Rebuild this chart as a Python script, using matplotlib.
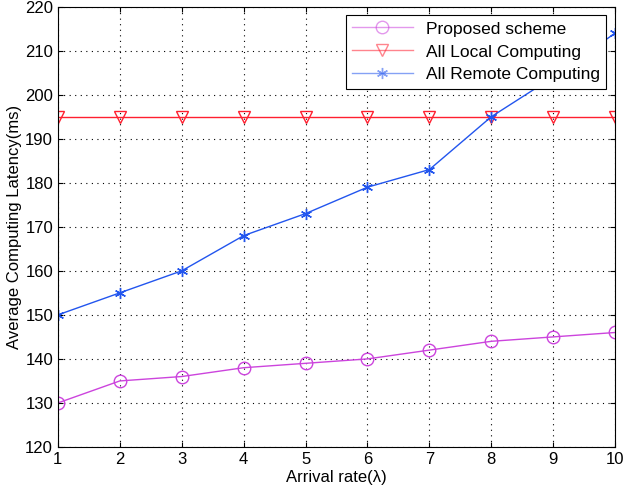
import matplotlib
matplotlib.use("Agg")
import matplotlib.pyplot as plt

plt.rcParams['font.family'] = ['Liberation Sans', 'DejaVu Sans']

x = [1, 2, 3, 4, 5, 6, 7, 8, 9, 10]
proposed = [130, 135, 136, 138, 139, 140, 142, 144, 145, 146]
local = [195, 195, 195, 195, 195, 195, 195, 195, 195, 195]
remote = [150, 155, 160, 168, 173, 179, 183, 195, 204, 214]

fig = plt.figure(figsize=(6.29, 4.92), dpi=100)
ax = fig.add_axes([0.092, 0.0915, 0.886, 0.895])

ax.plot(x, proposed, color='#cc44dd', lw=1, marker='o', ms=9, mfc='none', mec='#cc44dd', mew=1, label='Proposed scheme')
ax.plot(x, local, color='#ff2030', lw=1, marker='v', ms=9, mfc='none', mec='#ff2030', mew=1, label='All Local Computing')
ax.plot(x, remote, color='#2255ee', lw=1, marker=(6, 2, 0), ms=8, mec='#2255ee', mew=1, label='All Remote Computing')

ax.set_xlim(1, 10)
ax.set_ylim(120, 220)
ax.set_xticks(x)
ax.set_yticks(range(120, 221, 10))
ax.grid(True, color='black', linestyle=(0, (1, 4)), lw=0.8)
ax.tick_params(direction='in', labelsize=12, top=True, right=True)
ax.set_xlabel('Arrival rate(λ)', fontsize=12, labelpad=2)
ax.set_ylabel('Average Computing Latency(ms)', fontsize=12, labelpad=2)

leg = ax.legend(loc='upper right', fontsize=12.5, fancybox=False, framealpha=1,
                edgecolor='black', handlelength=3.5, borderaxespad=0.5,
                labelspacing=0.45, borderpad=0.35)
leg.get_frame().set_linewidth(0.8)
for line in leg.get_lines():
    line.set_alpha(0.55)

fig.savefig('out.png', dpi=100)
